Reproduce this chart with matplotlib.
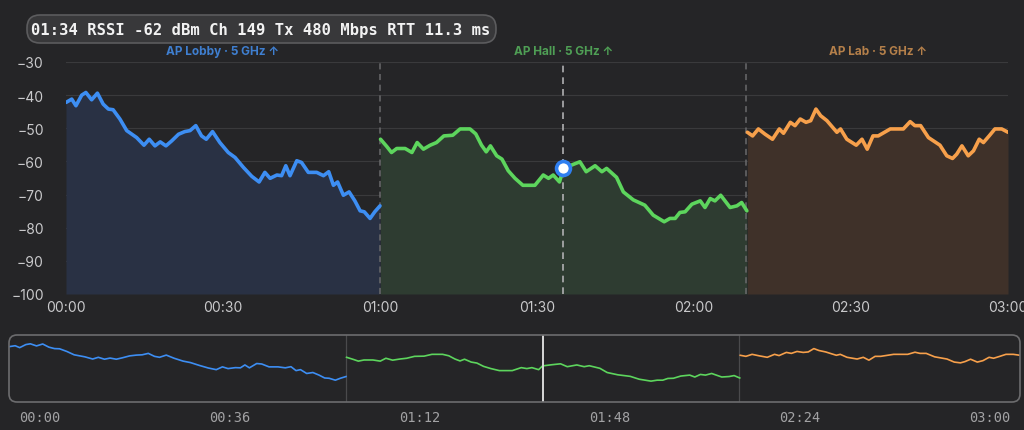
import matplotlib
matplotlib.use("Agg")
import matplotlib.pyplot as plt
from matplotlib.patches import FancyBboxPatch
import numpy as np

# RSSI samples per access point (seconds, dBm)
blue_t = [0, 1.1, 1.9, 3, 3.8, 4.9, 6, 7.1, 8.1, 9, 10.3, 11.6, 13.5, 14.9, 15.9, 17, 18, 19.1,
          20.2, 21.5, 22.7, 23.7, 24.8, 25.9, 26.8, 28, 29.4, 31, 32.3, 33.9, 35.5, 36.9, 38, 39,
          40.3, 41.2, 42, 42.8, 44.1, 45, 46.3, 47.9, 49.2, 50.2, 51.1, 51.9, 53, 54.1, 55.2,
          56.2, 57, 58.1, 59, 60]
blue_v = [-42.2, -41.2, -43.2, -40, -39.2, -41.4, -39.4, -42.7, -44.2, -44.4, -47.2, -50.7,
          -52.8, -55.1, -53.3, -55.3, -54.1, -55.3, -53.8, -51.8, -51, -50.7, -49.2, -52.3,
          -53.3, -51, -54.3, -57.3, -58.8, -61.8, -64.5, -66.2, -63.3, -65.1, -64.1, -64.3,
          -61.3, -64.3, -59.8, -60.3, -63.3, -63.3, -64.3, -63.1, -67.2, -66.2, -70.2, -69.2,
          -71.9, -74.9, -75.2, -77.2, -75.2, -73.4]

green_t = [60.1, 61.3, 62.2, 63.2, 64.8, 66.1, 67.1, 68.3, 69.6, 70.8, 72.2, 73.9, 75.3, 77.2,
           78.3, 79.4, 80.3, 81.1, 82.3, 83.3, 84.5, 85.8, 87.3, 89.6, 91.2, 92.2, 93.1, 94.3,
           95, 96.6, 98.2, 99.4, 101.1, 102.4, 103.3, 105.2, 106.5, 108.4, 110.6, 112.2, 114.3,
           115.4, 116.4, 117.3, 118.3, 119.6, 121.2, 122.1, 123.1, 124, 125.1, 126.9, 128.2,
           129.1, 130.1]
green_v = [-53.3, -55.5, -57.3, -56.1, -56.1, -57.3, -54.3, -56.3, -55.1, -54.3, -52.3, -52.1,
           -50.2, -50.2, -51.7, -55.1, -57.1, -55.3, -58.3, -59.3, -62.8, -65.1, -67.2, -67.2,
           -64.1, -65.1, -64.1, -66.2, -62.3, -61.1, -60.1, -63.1, -61.3, -63.1, -62.1, -64.8,
           -69.2, -71.6, -73.2, -76.2, -78.2, -77.2, -77.2, -75.4, -75.2, -72.9, -71.9, -73.9,
           -71.2, -71.9, -70.2, -73.9, -73.4, -72.4, -74.9]

orange_t = [130.2, 131.2, 132.3, 133.6, 135, 136.3, 137.1, 138.4, 139.3, 140.3, 141.4, 142.3,
            143.3, 144.2, 145.4, 147.3, 148, 149.2, 151, 152.1, 153.1, 154.2, 155.2, 157.5, 160,
            161.3, 162.2, 163.3, 164.8, 167, 168.3, 169.4, 170.2, 171.2, 172.4, 173.4, 174.5,
            175.3, 176.4, 177.5, 178.8, 180]
orange_v = [-51.2, -52.3, -50.2, -51.8, -53.3, -50.2, -51.5, -48.2, -49.2, -47.2, -48.2, -47.7,
            -44.2, -46.2, -47.7, -51.2, -50.2, -53.3, -55.1, -53.3, -56.3, -52.3, -52.3, -50.2,
            -50.2, -48, -49.2, -49.2, -52.8, -55.1, -58.3, -59.1, -57.8, -55.3, -58.3, -56.8,
            -53.3, -54.3, -52.3, -50.2, -50.2, -51.2]

ap_names = ["AP Lobby · 5 GHz ↑", "AP Hall · 5 GHz ↑", "AP Lab · 5 GHz ↑"]
roam_times = [60, 130]
cursor_t = 95
cursor_v = -62
tooltip = "01:34 RSSI -62 dBm Ch 149 Tx 480 Mbps RTT 11.3 ms"
main_ticks = [0, 30, 60, 90, 120, 150, 180]
main_labels = ["00:00", "00:30", "01:00", "01:30", "02:00", "02:30", "03:00"]
over_labels = ["00:00", "00:36", "01:12", "01:48", "02:24", "03:00"]

BG = "#252527"
line_cols = ["#3d8ef3", "#5dd55d", "#f7a04b"]
fill_cols = ["#293144", "#2e3c31", "#3f3129"]
label_cols = ["#3f7fd0", "#4f9f55", "#b5804a"]

plt.rcParams["font.family"] = ["Inter", "DejaVu Sans"]

fig = plt.figure(figsize=(10.24, 4.31), dpi=100, facecolor=BG)

# main chart
ax = fig.add_axes([66 / 1024, 136 / 431, 942 / 1024, 232 / 431])
ax.set_facecolor(BG)
segments = [(blue_t, blue_v), (green_t, green_v), (orange_t, orange_v)]
for i, (t, v) in enumerate(segments):
    ax.fill_between(t, v, -100, color=fill_cols[i], lw=0, zorder=1)
    ax.plot(t, v, color=line_cols[i], lw=2.6, solid_joinstyle="round",
            solid_capstyle="round", zorder=4)
    ax.text(np.mean([t[0], t[-1]]), 1.022, ap_names[i], transform=ax.get_xaxis_transform(),
            ha="center", va="bottom", fontsize=8.5, color=label_cols[i], fontweight="bold")

for rt in roam_times:
    ax.axvline(rt, color="#6a6a6c", lw=1.1, ls=(0, (4, 3)), zorder=3)
ax.axvline(cursor_t, color="#b0b0b2", lw=1.2, ls=(0, (4, 3)), zorder=3)
ax.plot([cursor_t], [cursor_v], "o", ms=10, mfc="white", mec="#2f7ff0", mew=2.6, zorder=6)

ax.set_xlim(0, 180)
ax.set_ylim(-100, -30)
ax.set_yticks(range(-100, -29, 10))
ax.grid(axis="y", color="#3a3a3c", lw=0.8, zorder=0)
ax.set_axisbelow(True)
ax.set_xticks(main_ticks)
ax.set_xticklabels(main_labels)
for s in ax.spines.values():
    s.set_visible(False)
ax.tick_params(length=0, colors="#c9c9cb", labelsize=10, pad=4)
ax.tick_params(axis="y", pad=22)
for lab in ax.get_yticklabels():
    lab.set_x(-0.0)
ax.yaxis.set_tick_params(pad=16)

# tooltip pill
fig.patches.append(FancyBboxPatch((27, 387), 469, 28, boxstyle="round,pad=0,rounding_size=13",
                                  transform=None, facecolor="#38383a", edgecolor="#5c5c5e",
                                  lw=1.2, figure=fig))
fig.text(261 / 1024, 401 / 431, tooltip, ha="center", va="center", family="DejaVu Sans Mono",
         fontsize=11.2, fontweight="bold", color="#f2f2f2")

# overview strip
ov = fig.add_axes([9 / 1024, 28 / 431, 1011 / 1024, 67 / 431])
ov.set_facecolor(BG)
for i, (t, v) in enumerate(segments):
    ov.plot(t, v, color=line_cols[i], lw=1.2, zorder=3)
for rt in roam_times:
    ov.axvline(rt, color="#4a4a4c", lw=0.9, zorder=2)
ov.axvline(cursor_t, color="#d8d8d8", lw=1.4, zorder=4)
ov.set_xlim(0, 180)
ov.set_ylim(-100, -30)
ov.set_xticks([])
ov.set_yticks([])
for s in ov.spines.values():
    s.set_visible(False)
fig.patches.append(FancyBboxPatch((9, 28), 1011, 67, boxstyle="round,pad=0,rounding_size=8",
                                  transform=None, facecolor="none", edgecolor="#6c6c6e",
                                  lw=1.2, figure=fig, zorder=5))
for j, lab in enumerate(over_labels):
    fig.text((40 + 190 * j) / 1024, 13 / 431, lab, ha="center", va="center",
             family="DejaVu Sans Mono", fontsize=9.8, color="#a2a2a4")

fig.savefig("out.png", dpi=100, facecolor=BG)
